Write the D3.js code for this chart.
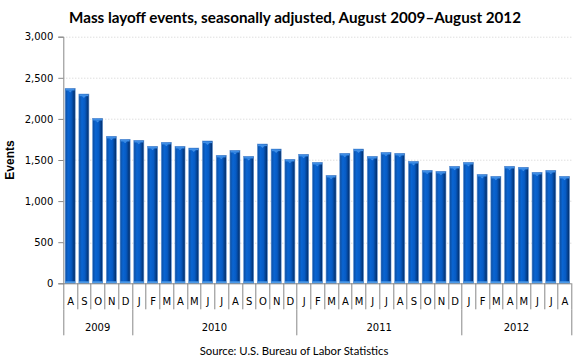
<!DOCTYPE html>
<html>
<head>
<meta charset="utf-8">
<script src="https://cdn.jsdelivr.net/npm/d3@7"></script>
<style>
  body { margin: 0; background: #fff; }
  svg { display: block; }
</style>
</head>
<body>
<div id="my_dataviz"></div>
<script>
// month letters, one per bar (Aug 2009 - Aug 2012)
var monthLabels = ["A","S","O","N","D",
    "J","F","M","A","M","J","J","A","S","O","N","D",
    "J","F","M","A","M","J","J","A","S","O","N","D",
    "J","F","M","A","M","J","J","A"];
var yearLabels = ["2009", "2010", "2011", "2012"];
var yearCounts = [5, 12, 12, 8];
// mass layoff events
var events = [2371, 2302, 2006, 1788, 1751,
    1739, 1666, 1715, 1666, 1645, 1731, 1557, 1617, 1544, 1694, 1633, 1508,
    1569, 1471, 1313, 1581, 1633, 1544, 1593, 1581, 1483, 1374, 1362, 1423,
    1471, 1325, 1301, 1423, 1411, 1350, 1374, 1301];
var yTicks = [0, 500, 1000, 1500, 2000, 2500, 3000];

var W = 580, H = 360;
var margin = { top: 36.7, right: 8.6, bottom: 76.7, left: 63.3 },
    width = W - margin.left - margin.right,
    height = H - margin.top - margin.bottom;

var svg = d3.select("#my_dataviz")
    .append("svg")
        .attr("width", W)
        .attr("height", H);

// bar gradient
var defs = svg.append("defs");
var grad = defs.append("linearGradient")
    .attr("id", "barGrad")
    .attr("x1", 0).attr("x2", 1).attr("y1", 0).attr("y2", 0);
grad.append("stop").attr("offset", "0%").attr("stop-color", "#0d4d9e");
grad.append("stop").attr("offset", "30%").attr("stop-color", "#0a65d2");
grad.append("stop").attr("offset", "60%").attr("stop-color", "#075bc4");
grad.append("stop").attr("offset", "100%").attr("stop-color", "#022a62");

var g = svg.append("g")
    .attr("transform", "translate(" + margin.left + "," + margin.top + ")");

// scales
var x = d3.scaleBand()
    .domain(d3.range(events.length))
    .range([0, width])
    .paddingInner(0.27)
    .paddingOuter(0.135);
var y = d3.scaleLinear()
    .domain([0, 3000])
    .range([height, 0]);

// gridlines
g.append("g")
    .selectAll("line")
    .data(yTicks.slice(1))
    .enter().append("line")
        .attr("x1", 0)
        .attr("x2", width)
        .attr("y1", d => Math.round(y(d)) + 0.5)
        .attr("y2", d => Math.round(y(d)) + 0.5)
        .attr("stroke", "#cfcfcf")
        .attr("stroke-dasharray", "1,2");

// y axis
var yAxis = g.append("g")
    .call(d3.axisLeft(y).tickValues(yTicks).tickSize(5).tickFormat(d3.format(",")));
yAxis.select(".domain").attr("stroke", "#888");
yAxis.selectAll(".tick line").attr("stroke", "#888");
yAxis.selectAll("text")
    .attr("font-family", "DejaVu Sans")
    .attr("font-size", "10px")
    .attr("fill", "#000")
    .attr("x", -10);

// y label
svg.append("text")
    .attr("transform", "rotate(-90)")
    .attr("x", -(margin.top + height / 2))
    .attr("y", 10)
    .attr("dy", ".35em")
    .attr("font-family", "Liberation Sans")
    .attr("font-weight", "bold")
    .attr("font-size", "12px")
    .style("text-anchor", "middle")
    .text("Events");

// bars
var bars = g.append("g")
    .selectAll("g")
    .data(events)
    .enter().append("g")
        .attr("transform", (d, i) => "translate(" + x(i) + ",0)");

bars.append("rect")
    .attr("x", 0)
    .attr("y", d => y(d))
    .attr("width", x.bandwidth())
    .attr("height", d => height - y(d))
    .attr("fill", "url(#barGrad)")
    .attr("stroke", "#5f93d6")
    .attr("stroke-width", 0.6);

// top cap
bars.append("rect")
    .attr("x", 0.5)
    .attr("y", d => y(d) + 0.5)
    .attr("width", x.bandwidth() - 1)
    .attr("height", 1.6)
    .attr("fill", "#3f8ee6");
bars.append("path")
    .attr("d", d => {
        var c = x.bandwidth() / 2, t = y(d) + 2;
        return "M" + (c - 2) + "," + t + "L" + (c + 2) + "," + t + "L" + c + "," + (t + 2) + "Z";
    })
    .attr("fill", "#3f8ee6");

// light floor under each bar
bars.append("rect")
    .attr("x", 0)
    .attr("y", height - 2)
    .attr("width", x.bandwidth())
    .attr("height", 2)
    .attr("fill", "#4c9ae8");

// x axis baseline
g.append("line")
    .attr("x1", 0).attr("x2", width)
    .attr("y1", height + 0.5).attr("y2", height + 0.5)
    .attr("stroke", "#888");

var step = x.step();
var x0 = x(0) - x.paddingOuter() * step;

// month separators and labels
g.append("g")
    .selectAll("line")
    .data(d3.range(events.length + 1))
    .enter().append("line")
        .attr("x1", i => Math.round(x0 + i * step) + 0.5)
        .attr("x2", i => Math.round(x0 + i * step) + 0.5)
        .attr("y1", height)
        .attr("y2", height + 26)
        .attr("stroke", "#888");

g.append("g")
    .selectAll("text")
    .data(monthLabels)
    .enter().append("text")
        .attr("x", (d, i) => x(i) + x.bandwidth() / 2 + 0.5)
        .attr("y", height + 18.4)
        .attr("dy", ".35em")
        .attr("text-anchor", "middle")
        .attr("font-family", "DejaVu Sans")
        .attr("font-size", "10px")
        .text(d => d);

// year groups
var starts = [0];
yearCounts.forEach((c, i) => starts.push(starts[i] + c));

g.append("g")
    .selectAll("line")
    .data(starts)
    .enter().append("line")
        .attr("x1", s => Math.round(x0 + s * step) + 0.5)
        .attr("x2", s => Math.round(x0 + s * step) + 0.5)
        .attr("y1", height + 26)
        .attr("y2", height + 52)
        .attr("stroke", "#888");

g.append("g")
    .selectAll("text")
    .data(yearLabels)
    .enter().append("text")
        .attr("x", (d, i) => x0 + (starts[i] + yearCounts[i] / 2) * step)
        .attr("y", height + 44)
        .attr("dy", ".35em")
        .attr("text-anchor", "middle")
        .attr("font-family", "DejaVu Sans")
        .attr("font-size", "10px")
        .text(d => d);

// title
svg.append("text")
    .attr("x", 295)
    .attr("y", 18)
    .attr("dy", ".35em")
    .attr("text-anchor", "middle")
    .attr("font-family", "Lato")
    .attr("font-weight", "bold")
    .attr("font-size", "15.2px")
    .text("Mass layoff events, seasonally adjusted, August 2009\u2013August 2012");

// source
svg.append("text")
    .attr("x", 294)
    .attr("y", 351)
    .attr("dy", ".35em")
    .attr("text-anchor", "middle")
    .attr("font-family", "Lato")
    .attr("font-size", "11.3px")
    .text("Source: U.S. Bureau of Labor Statistics");
</script>
</body>
</html>
